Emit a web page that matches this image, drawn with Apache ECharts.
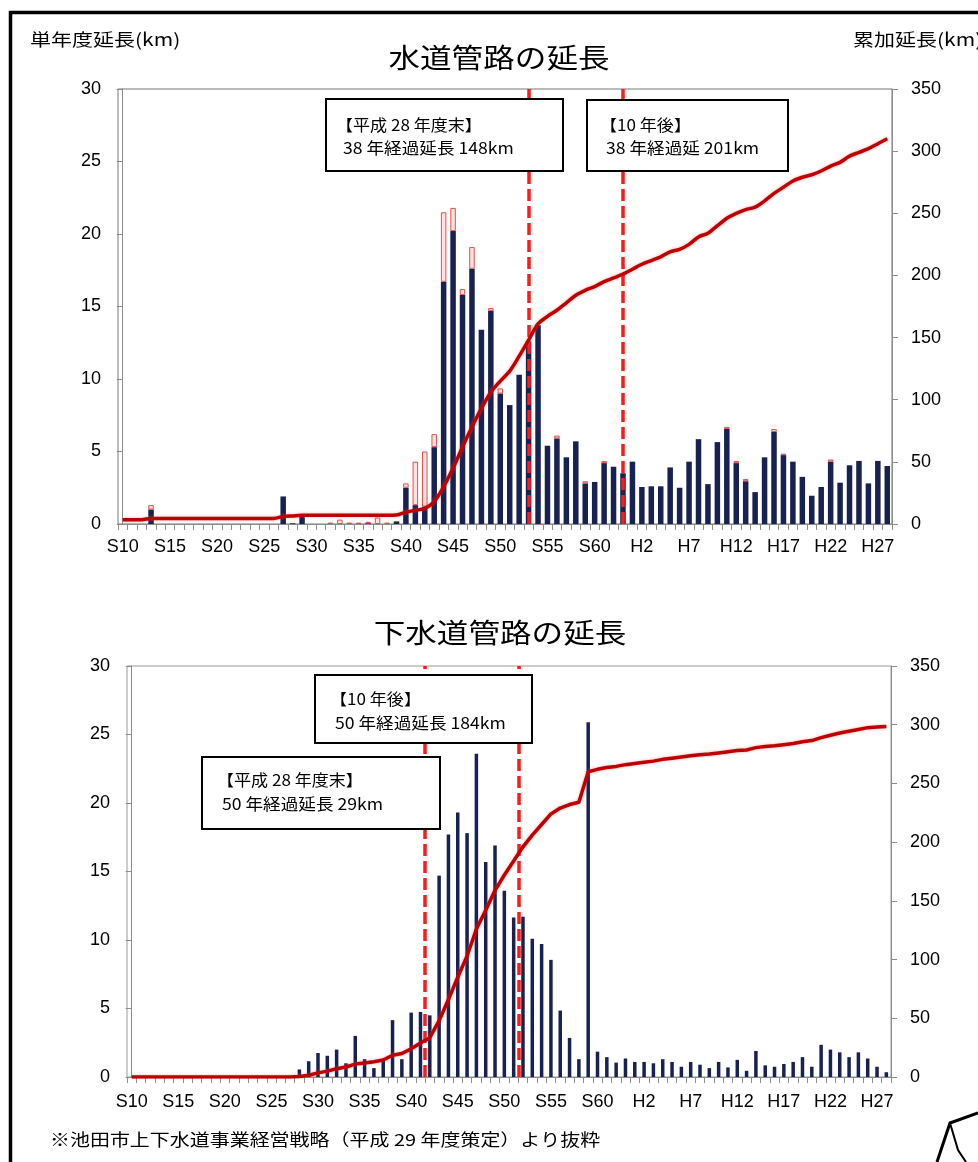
<!DOCTYPE html>
<html>
<head>
<meta charset="utf-8">
<script src="https://cdn.jsdelivr.net/npm/echarts@6/dist/echarts.min.js"></script>
<style>
  html, body { margin: 0; padding: 0; background: #fff; }
  #chart { width: 978px; height: 1162px; }
</style>
</head>
<body>
<div id="chart"></div>
<script>
// Fiscal years S10 (1935) … S63, H1 … H28
const years = [
  'S10','S11','S12','S13','S14','S15','S16','S17','S18','S19',
  'S20','S21','S22','S23','S24','S25','S26','S27','S28','S29',
  'S30','S31','S32','S33','S34','S35','S36','S37','S38','S39',
  'S40','S41','S42','S43','S44','S45','S46','S47','S48','S49',
  'S50','S51','S52','S53','S54','S55','S56','S57','S58','S59',
  'S60','S61','S62','S63','H1','H2','H3','H4','H5','H6',
  'H7','H8','H9','H10','H11','H12','H13','H14','H15','H16',
  'H17','H18','H19','H20','H21','H22','H23','H24','H25','H26',
  'H27','H28'
];

// 水道管路: single-year length in service (km)
const waterLength = [
  0, 0, 0, 1.0, 0, 0, 0, 0, 0, 0,
  0, 0, 0, 0, 0, 0, 0, 1.9, 0.05, 0.5,
  0, 0, 0, 0, 0, 0, 0.05, 0, 0, 0.15,
  2.5, 1.3, 1.2, 5.3, 16.7, 20.2, 15.8, 17.6, 13.4, 14.7,
  9.0, 8.2, 10.3, 12.6, 13.7, 5.4, 5.9, 4.6, 5.7, 2.8,
  2.9, 4.2, 3.95, 3.5, 4.3, 2.55, 2.6, 2.6, 3.9, 2.5,
  4.3, 5.85, 2.75, 5.65, 6.55, 4.2, 2.95, 2.2, 4.6, 6.35,
  4.75, 4.3, 3.25, 1.95, 2.55, 4.3, 2.85, 4.05, 4.35, 2.8,
  4.35, 4.0
];
// 水道管路: additional single-year length (outlined part of each bar, km)
const waterExtra = [
  0, 0, 0, 0.3, 0, 0, 0, 0, 0, 0,
  0, 0, 0, 0, 0, 0, 0, 0, 0, 0,
  0, 0, 0.1, 0.3, 0.1, 0.1, 0.1, 0.45, 0.1, 0.05,
  0.3, 3.0, 3.8, 0.9, 4.8, 1.6, 0.4, 1.5, 0, 0.2,
  0.35, 0, 0, 0, 0, 0, 0.2, 0, 0, 0.15,
  0, 0.15, 0, 0, 0, 0, 0, 0, 0, 0,
  0, 0, 0, 0, 0.15, 0.15, 0.15, 0, 0, 0.2,
  0.1, 0, 0, 0, 0, 0.15, 0, 0, 0, 0,
  0, 0
];
// 水道管路: cumulative length (km, right axis)
const waterCumulative = [
  3.5, 3.5, 3.5, 4.5, 4.5, 4.5, 4.5, 4.5, 4.5, 4.5,
  4.5, 4.5, 4.5, 4.5, 4.5, 4.5, 4.5, 6, 6.5, 7,
  7, 7, 7, 7, 7, 7, 7, 7, 7, 7.2,
  9.5, 11, 12.5, 18, 30, 45, 62, 78, 93, 106,
  115, 123, 135, 148, 161, 167, 172, 178, 184, 188,
  191, 195, 198, 201, 205, 209, 212, 215, 219, 221,
  225, 231, 234, 240, 246, 250, 253, 255, 260, 266,
  271, 276, 279, 281, 284, 288, 291, 296, 299, 302,
  306, 310
];

// 下水道管路: single-year length (km)
const sewerLength = [
  0, 0, 0, 0, 0, 0, 0, 0, 0, 0,
  0, 0, 0, 0, 0, 0, 0, 0, 0.55, 1.15,
  1.75, 1.55, 2.0, 1.0, 3.0, 1.3, 0.65, 1.2, 4.15, 1.3,
  4.7, 4.75, 4.5, 14.7, 17.7, 19.3, 17.8, 23.6, 15.7, 16.9,
  13.6, 11.65, 11.7, 10.1, 9.7, 8.55, 4.85, 2.85, 1.3, 25.9,
  1.85, 1.45, 1.05, 1.35, 1.1, 1.1, 1.0, 1.3, 1.1, 0.75,
  1.1, 0.9, 0.65, 1.1, 0.7, 1.25, 0.45, 1.9, 0.85, 0.75,
  0.95, 1.1, 1.45, 0.75, 2.35, 2.0, 1.8, 1.45, 1.8, 1.35,
  0.75, 0.35
];
// 下水道管路: cumulative length (km, right axis)
const sewerCumulative = [
  0, 0, 0, 0, 0, 0, 0, 0, 0, 0,
  0, 0, 0, 0, 0, 0, 0, 0, 0.5, 1.5,
  3.5, 5, 7, 8.5, 11, 12, 13, 14.5, 18.5, 20,
  24, 29, 33.5, 48, 66, 85, 103, 126, 142, 159,
  172, 184, 196, 206, 215, 224, 229, 232, 234, 260,
  262, 263.5, 264.5, 266, 267, 268, 269, 270.5, 271.5, 272.5,
  273.5, 274.5, 275, 276, 277, 278, 278.5, 280.5, 281.5, 282,
  283, 284, 285.5, 286.5, 289, 291, 293, 294.5, 296, 297.5,
  298, 298.5
];

// Last fiscal year counted in each aged-length total
const waterAgedThrough = ['S53', 'S63'];
const sewerAgedThrough = ['S41', 'S51'];

const leftTicks = { max: 30, interval: 5 };
const rightTicks = { max: 350, interval: 50 };

const NAVY = '#172252';
const LINE_RED = '#C00000';
const DASH_RED = '#FF1A1A';
const AXIS_GREY = '#8c8c8c';
const CJK = '"Noto Sans CJK JP", sans-serif';
const NUM = '"Liberation Sans", Arial, sans-serif';

function categoryAxis(gridIndex, margin) {
  return {
    type: 'category', gridIndex, data: years, boundaryGap: true,
    axisLine: { lineStyle: { color: AXIS_GREY, width: 1 } },
    axisTick: { show: true, interval: 0, length: 6, lineStyle: { color: AXIS_GREY } },
    axisLabel: { interval: 4, margin, color: '#000', fontSize: 18, fontFamily: NUM },
    splitLine: { show: false }
  };
}
function valueAxis(gridIndex, position, ticks, margin) {
  return {
    type: 'value', gridIndex, position, min: 0, max: ticks.max, interval: ticks.interval,
    axisLine: { show: true, lineStyle: { color: AXIS_GREY } },
    axisTick: { show: true, length: 6, lineStyle: { color: AXIS_GREY } },
    axisLabel: { margin, color: '#000', fontSize: 18, fontFamily: NUM },
    splitLine: { show: false }
  };
}
// hidden ordinal-position axis used to place the dashed year markers
function positionAxis(gridIndex) {
  return { type: 'value', gridIndex, min: -0.5, max: years.length - 0.5, show: false };
}
function yearMarkers(xAxisIndex, yAxisIndex, through, offset) {
  return {
    type: 'line', xAxisIndex, yAxisIndex, data: [], silent: true,
    markLine: {
      silent: true, symbol: ['none', 'none'], label: { show: false },
      lineStyle: { color: DASH_RED, width: 3.5, type: [12, 5] },
      data: through.map(y => ({ xAxis: years.indexOf(y) + offset }))
    }
  };
}

function label(text, x, y, size, scaleX, align) {
  return {
    type: 'text', x, y, scaleX, z: 101,
    style: { text, fontSize: size, fontFamily: CJK, fill: '#000', align: align || 'left', verticalAlign: 'middle' }
  };
}
function box(x, y, w, h) {
  return { type: 'rect', z: 100, shape: { x, y, width: w, height: h }, style: { fill: '#fff', stroke: '#000', lineWidth: 2 } };
}

const chart = echarts.init(document.getElementById('chart'));
chart.setOption({
  animation: false,
  backgroundColor: '#fff',
  grid: [
    { left: 118, top: 89, width: 774, height: 435, show: true, borderColor: '#777', borderWidth: 1 },
    { left: 127, top: 666, width: 764, height: 411, show: true, borderColor: '#999', borderWidth: 1 }
  ],
  xAxis: [categoryAxis(0, 14), categoryAxis(1, 16), positionAxis(0), positionAxis(1)],
  yAxis: [
    valueAxis(0, 'left', leftTicks, 17), valueAxis(0, 'right', rightTicks, 19),
    valueAxis(1, 'left', leftTicks, 17), valueAxis(1, 'right', rightTicks, 19)
  ],
  series: [
    { type: 'bar', xAxisIndex: 0, yAxisIndex: 0, stack: 'water', barWidth: 5.5,
      data: waterLength, itemStyle: { color: NAVY } },
    { type: 'bar', xAxisIndex: 0, yAxisIndex: 0, stack: 'water', barWidth: 5.5,
      data: waterExtra.map(v => v || null),
      itemStyle: { color: '#fde2e2', borderColor: '#e0504a', borderWidth: 1 } },
    { type: 'line', xAxisIndex: 0, yAxisIndex: 1, data: waterCumulative, smooth: 0.3, symbol: 'none', z: 5,
      lineStyle: { color: LINE_RED, width: 3.5, shadowColor: 'rgba(230,90,90,0.5)', shadowBlur: 3 } },
    yearMarkers(2, 0, waterAgedThrough, 0),

    { type: 'bar', xAxisIndex: 1, yAxisIndex: 2, barWidth: 3.5,
      data: sewerLength, itemStyle: { color: NAVY } },
    { type: 'line', xAxisIndex: 1, yAxisIndex: 3, data: sewerCumulative, symbol: 'none', z: 5,
      lineStyle: { color: LINE_RED, width: 3.5, shadowColor: 'rgba(230,90,90,0.5)', shadowBlur: 3 } },
    yearMarkers(3, 2, sewerAgedThrough, 0.5)
  ],
  graphic: [
    { type: 'rect', z: 100, shape: { x: 10.5, y: 12.5, width: 1000, height: 1200 },
      style: { fill: 'none', stroke: '#000', lineWidth: 3.5 } },
    { type: 'polyline', z: 100, shape: { points: [[937, 1162], [950, 1123], [978, 1113]] },
      style: { fill: 'none', stroke: '#000', lineWidth: 3 } },
    { type: 'polyline', z: 100, shape: { points: [[950, 1123], [958, 1150], [966, 1162]] },
      style: { fill: 'none', stroke: '#000', lineWidth: 2 } },

    label('水道管路の延長', 499, 58, 27, 1.17, 'center'),
    label('下水道管路の延長', 500, 633, 27, 1.17, 'center'),
    label('単年度延長(km)', 30, 39, 17.5, 1.2),
    label('累加延長(km)', 853, 39, 17.5, 1.2),

    box(326, 99, 237, 72),
    label('【平成 28 年度末】', 336, 125, 15.5, 1.1),
    label('38 年経過延長 148km', 343, 148, 16, 1.1),
    box(587, 100, 201, 71),
    label('【10 年後】', 600, 125, 15.5, 1.1),
    label('38 年経過延 201km', 606, 148, 16, 1.1),

    box(315, 675, 217, 68),
    label('【10 年後】', 330, 699, 15.5, 1.1),
    label('50 年経過延長 184km', 335, 723, 16, 1.1),
    box(202, 757, 238, 72),
    label('【平成 28 年度末】', 217, 780, 15.5, 1.1),
    label('50 年経過延長 29km', 222, 804, 16, 1.1),

    label('※池田市上下水道事業経営戦略（平成 29 年度策定）より抜粋', 50, 1140, 16.5, 1.21)
  ]
});
</script>
</body>
</html>
